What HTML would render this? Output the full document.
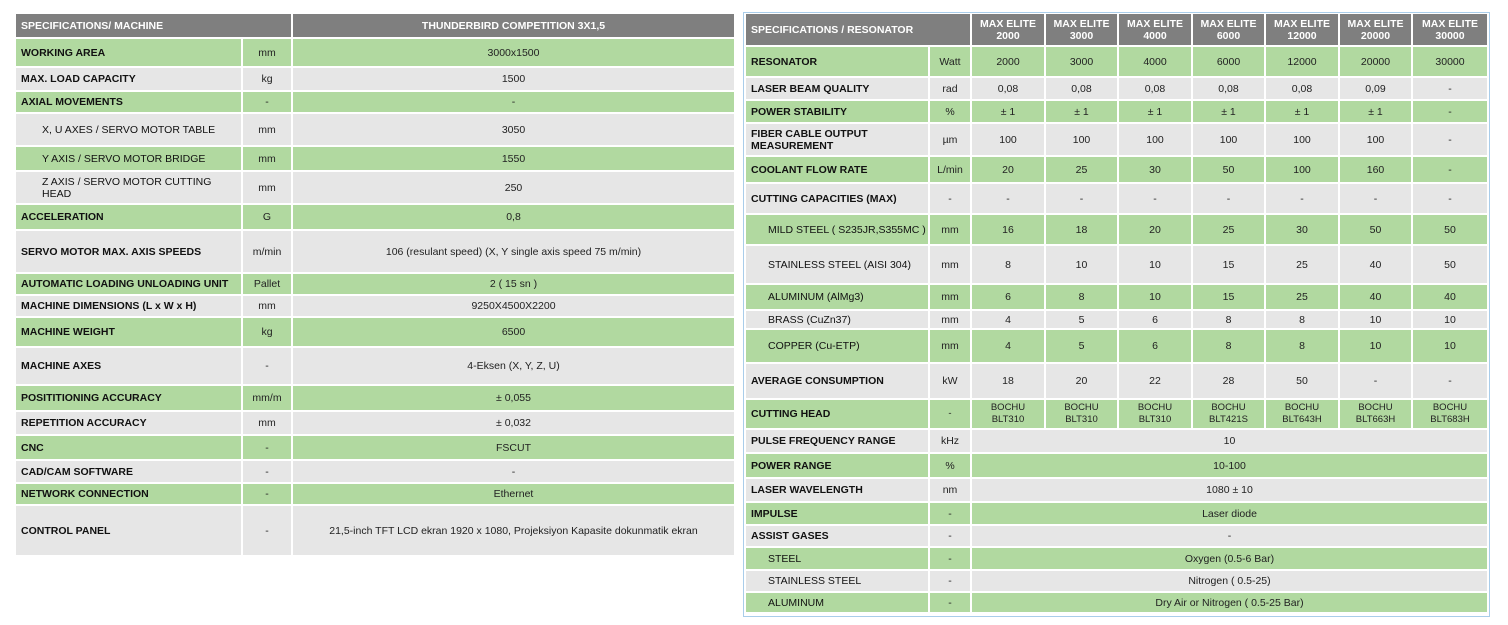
<!DOCTYPE html>
<html><head><meta charset="utf-8"><style>
body{margin:0;width:1508px;height:625px;background:#fff;position:relative;font-family:"Liberation Sans",sans-serif;overflow:hidden}
table{position:absolute;border-collapse:separate;border-spacing:0;table-layout:fixed;font-size:10.5px;color:#222}
td{border-right:2px solid #fff;border-bottom:2px solid #fff;text-align:center;padding:0 3px;line-height:12px;overflow:hidden}
td.l{text-align:left;font-weight:bold;padding-left:5px;color:#111}
td.s{text-align:left;font-weight:normal;padding-left:26px}
#R td.s{padding-left:22px}
tr.h td{background:#7f7f7f;color:#fff;font-weight:bold}
tr.g td{background:#b1d9a0}
tr.w td{background:#e6e6e6}
#L{left:16px;top:14px;width:720px}
#R{left:746px;top:14px;width:743px}
#box{position:absolute;left:743px;top:12px;width:745px;height:603px;border:1px solid #a9cdea}
.sm{font-size:9.5px}
</style></head><body>
<table id="L">
<colgroup><col style="width:227px"><col style="width:50px"><col style="width:443px"></colgroup>
<tr class="h" style="height:25px"><td class="l" colspan="2">SPECIFICATIONS/ MACHINE</td><td>THUNDERBIRD COMPETITION 3X1,5</td></tr>
<tr class="g" style="height:29px"><td class="l">WORKING AREA</td><td>mm</td><td>3000x1500</td></tr>
<tr class="w" style="height:24px"><td class="l">MAX. LOAD CAPACITY</td><td>kg</td><td>1500</td></tr>
<tr class="g" style="height:22px"><td class="l">AXIAL MOVEMENTS</td><td>-</td><td>-</td></tr>
<tr class="w" style="height:33px"><td class="l s">X, U AXES / SERVO MOTOR TABLE</td><td>mm</td><td>3050</td></tr>
<tr class="g" style="height:25px"><td class="l s">Y AXIS / SERVO MOTOR BRIDGE</td><td>mm</td><td>1550</td></tr>
<tr class="w" style="height:33px"><td class="l s">Z AXIS / SERVO MOTOR CUTTING HEAD</td><td>mm</td><td>250</td></tr>
<tr class="g" style="height:26px"><td class="l">ACCELERATION</td><td>G</td><td>0,8</td></tr>
<tr class="w" style="height:43px"><td class="l">SERVO MOTOR MAX. AXIS SPEEDS</td><td>m/min</td><td>106 (resulant speed) (X, Y single axis speed 75 m/min)</td></tr>
<tr class="g" style="height:22px"><td class="l">AUTOMATIC LOADING UNLOADING UNIT</td><td>Pallet</td><td>2 ( 15 sn )</td></tr>
<tr class="w" style="height:22px"><td class="l">MACHINE DIMENSIONS (L x W x H)</td><td>mm</td><td>9250X4500X2200</td></tr>
<tr class="g" style="height:30px"><td class="l">MACHINE WEIGHT</td><td>kg</td><td>6500</td></tr>
<tr class="w" style="height:38px"><td class="l">MACHINE AXES</td><td>-</td><td>4-Eksen (X, Y, Z, U)</td></tr>
<tr class="g" style="height:26px"><td class="l">POSITITIONING ACCURACY</td><td>mm/m</td><td>± 0,055</td></tr>
<tr class="w" style="height:24px"><td class="l">REPETITION ACCURACY</td><td>mm</td><td>± 0,032</td></tr>
<tr class="g" style="height:25px"><td class="l">CNC</td><td>-</td><td>FSCUT</td></tr>
<tr class="w" style="height:23px"><td class="l">CAD/CAM SOFTWARE</td><td>-</td><td>-</td></tr>
<tr class="g" style="height:22px"><td class="l">NETWORK CONNECTION</td><td>-</td><td>Ethernet</td></tr>
<tr class="w" style="height:51px"><td class="l">CONTROL PANEL</td><td>-</td><td>21,5-inch TFT LCD ekran 1920 x 1080, Projeksiyon Kapasite dokunmatik ekran</td></tr>
</table>
<div id="box"></div>
<table id="R">
<colgroup><col style="width:184px"><col style="width:42px"><col style="width:74px"><col style="width:73px"><col style="width:74px"><col style="width:73px"><col style="width:74px"><col style="width:73px"><col style="width:76px"></colgroup>
<tr class="h" style="height:33px"><td class="l" colspan="2">SPECIFICATIONS / RESONATOR</td><td>MAX ELITE 2000</td><td>MAX ELITE 3000</td><td>MAX ELITE 4000</td><td>MAX ELITE 6000</td><td>MAX ELITE 12000</td><td>MAX ELITE 20000</td><td>MAX ELITE 30000</td></tr>
<tr class="g" style="height:31px"><td class="l">RESONATOR</td><td>Watt</td><td>2000</td><td>3000</td><td>4000</td><td>6000</td><td>12000</td><td>20000</td><td>30000</td></tr>
<tr class="w" style="height:23px"><td class="l">LASER BEAM QUALITY</td><td>rad</td><td>0,08</td><td>0,08</td><td>0,08</td><td>0,08</td><td>0,08</td><td>0,09</td><td>-</td></tr>
<tr class="g" style="height:23px"><td class="l">POWER STABILITY</td><td>%</td><td>± 1</td><td>± 1</td><td>± 1</td><td>± 1</td><td>± 1</td><td>± 1</td><td>-</td></tr>
<tr class="w" style="height:33px"><td class="l">FIBER CABLE OUTPUT MEASUREMENT</td><td>µm</td><td>100</td><td>100</td><td>100</td><td>100</td><td>100</td><td>100</td><td>-</td></tr>
<tr class="g" style="height:27px"><td class="l">COOLANT FLOW RATE</td><td>L/min</td><td>20</td><td>25</td><td>30</td><td>50</td><td>100</td><td>160</td><td>-</td></tr>
<tr class="w" style="height:31px"><td class="l">CUTTING CAPACITIES (MAX)</td><td>-</td><td>-</td><td>-</td><td>-</td><td>-</td><td>-</td><td>-</td><td>-</td></tr>
<tr class="g" style="height:31px"><td class="l s" style="white-space:nowrap">MILD STEEL ( S235JR,S355MC )</td><td>mm</td><td>16</td><td>18</td><td>20</td><td>25</td><td>30</td><td>50</td><td>50</td></tr>
<tr class="w" style="height:39px"><td class="l s">STAINLESS STEEL (AISI 304)</td><td>mm</td><td>8</td><td>10</td><td>10</td><td>15</td><td>25</td><td>40</td><td>50</td></tr>
<tr class="g" style="height:26px"><td class="l s">ALUMINUM (AlMg3)</td><td>mm</td><td>6</td><td>8</td><td>10</td><td>15</td><td>25</td><td>40</td><td>40</td></tr>
<tr class="w" style="height:19px"><td class="l s">BRASS (CuZn37)</td><td>mm</td><td>4</td><td>5</td><td>6</td><td>8</td><td>8</td><td>10</td><td>10</td></tr>
<tr class="g" style="height:34px"><td class="l s">COPPER (Cu-ETP)</td><td>mm</td><td>4</td><td>5</td><td>6</td><td>8</td><td>8</td><td>10</td><td>10</td></tr>
<tr class="w" style="height:36px"><td class="l">AVERAGE CONSUMPTION</td><td>kW</td><td>18</td><td>20</td><td>22</td><td>28</td><td>50</td><td>-</td><td>-</td></tr>
<tr class="g sm" style="height:30px"><td class="l" style="font-size:10.5px">CUTTING HEAD</td><td>-</td><td>BOCHU BLT310</td><td>BOCHU BLT310</td><td>BOCHU BLT310</td><td>BOCHU BLT421S</td><td>BOCHU BLT643H</td><td>BOCHU BLT663H</td><td>BOCHU BLT683H</td></tr>
<tr class="w" style="height:24px"><td class="l">PULSE FREQUENCY RANGE</td><td>kHz</td><td colspan="7">10</td></tr>
<tr class="g" style="height:25px"><td class="l">POWER RANGE</td><td>%</td><td colspan="7">10-100</td></tr>
<tr class="w" style="height:24px"><td class="l">LASER WAVELENGTH</td><td>nm</td><td colspan="7">1080 ± 10</td></tr>
<tr class="g" style="height:23px"><td class="l">IMPULSE</td><td>-</td><td colspan="7">Laser diode</td></tr>
<tr class="w" style="height:22px"><td class="l">ASSIST GASES</td><td>-</td><td colspan="7">-</td></tr>
<tr class="g" style="height:23px"><td class="l s">STEEL</td><td>-</td><td colspan="7">Oxygen (0.5-6 Bar)</td></tr>
<tr class="w" style="height:22px"><td class="l s">STAINLESS STEEL</td><td>-</td><td colspan="7">Nitrogen ( 0.5-25)</td></tr>
<tr class="g" style="height:21px"><td class="l s">ALUMINUM</td><td>-</td><td colspan="7">Dry Air or Nitrogen ( 0.5-25 Bar)</td></tr>
</table>
</body></html>
